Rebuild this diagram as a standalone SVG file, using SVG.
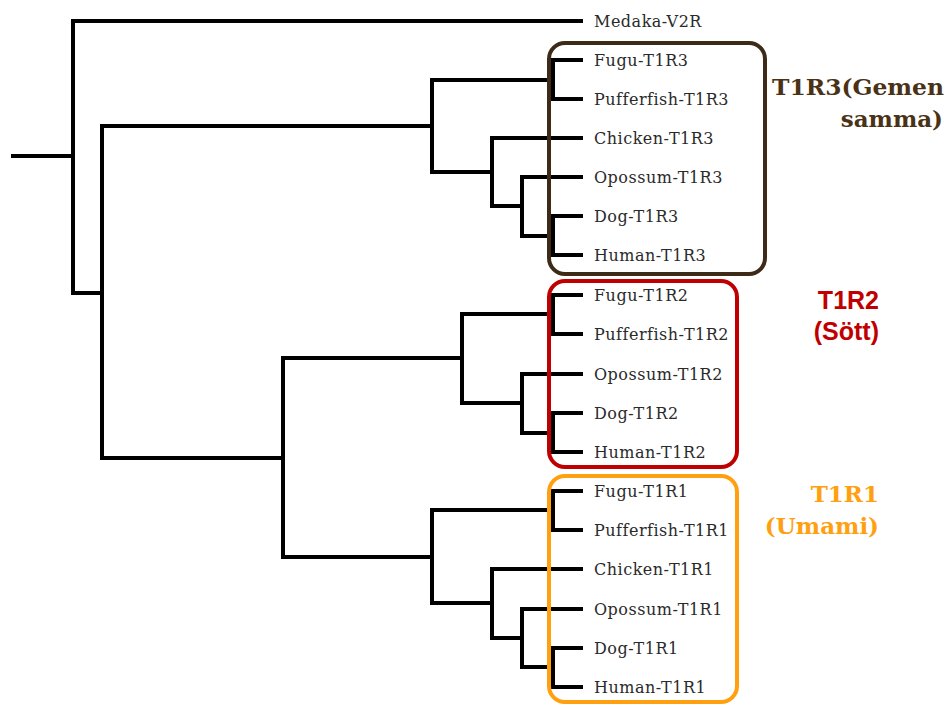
<svg xmlns="http://www.w3.org/2000/svg" width="947" height="705" viewBox="0 0 947 705">
<style>
.br{fill:none;stroke:#000;stroke-width:4;stroke-linecap:square;stroke-linejoin:miter}
.lf{font-family:"DejaVu Serif","Liberation Serif",serif;font-size:16px;letter-spacing:0.5px;fill:#2a2a2a}
.box{fill:none;stroke-width:4}
.cl{font-weight:bold}
.ser{font-family:"DejaVu Serif","Liberation Serif",serif;font-size:23px}
.san{font-family:"Liberation Sans",Arial,sans-serif;font-size:25px}
</style>
<rect width="947" height="705" fill="#fff"/>
<g id="connectors">
<path class="br" d="M13,156H73M73,21V293M73,21H581M73,293H102M102,126V458M102,126H432M102,458H283"/>
<path class="br" d="M432,80V172M432,80H553M553,60V99M553,60H581M553,99H581M432,172H492M492,138V206M492,138H581M492,206H522M522,177V236M522,177H581M522,236H553M553,216V255M553,216H581M553,255H581"/>
<path class="br" d="M283,358V557M283,358H462M462,314V403M462,314H553M553,295V334M553,295H581M553,334H581M462,403H522M522,374V433M522,374H581M522,433H553M553,413V452M553,413H581M553,452H581"/>
<path class="br" d="M283,557H432M432,510V603M432,510H553M553,491V530M553,491H581M553,530H581M432,603H492M492,569V638M492,569H581M492,638H522M522,609V667M522,609H581M522,667H553M553,648V687M553,648H581M553,687H581"/>
</g>
<g id="medaka"><text class="lf" x="594" y="27">Medaka-V2R</text></g>
<g id="t1r3">
<rect class="box" x="549" y="43" width="216" height="231" rx="16" stroke="#3d2a17"/>
<text class="lf" x="594" y="66">Fugu-T1R3</text>
<text class="lf" x="594" y="105">Pufferfish-T1R3</text>
<text class="lf" x="594" y="144">Chicken-T1R3</text>
<text class="lf" x="594" y="183">Opossum-T1R3</text>
<text class="lf" x="594" y="222">Dog-T1R3</text>
<text class="lf" x="594" y="261">Human-T1R3</text>
<text class="cl ser" x="772" y="95" textLength="172" lengthAdjust="spacingAndGlyphs" fill="#4a3217">T1R3(Gemen</text>
<text class="cl ser" x="943" y="127" text-anchor="end" fill="#4a3217">samma)</text>
</g>
<g id="t1r2">
<rect class="box" x="549" y="281" width="188" height="186" rx="16" stroke="#c00000"/>
<text class="lf" x="594" y="301">Fugu-T1R2</text>
<text class="lf" x="594" y="340">Pufferfish-T1R2</text>
<text class="lf" x="594" y="380">Opossum-T1R2</text>
<text class="lf" x="594" y="419">Dog-T1R2</text>
<text class="lf" x="594" y="458">Human-T1R2</text>
<text class="cl san" x="879" y="309" text-anchor="end" fill="#c00000">T1R2</text>
<text class="cl san" x="879" y="340" text-anchor="end" fill="#c00000">(Sött)</text>
</g>
<g id="t1r1">
<rect class="box" x="549" y="476" width="188" height="226" rx="16" stroke="#ffa010"/>
<text class="lf" x="594" y="497">Fugu-T1R1</text>
<text class="lf" x="594" y="536">Pufferfish-T1R1</text>
<text class="lf" x="594" y="575">Chicken-T1R1</text>
<text class="lf" x="594" y="615">Opossum-T1R1</text>
<text class="lf" x="594" y="654">Dog-T1R1</text>
<text class="lf" x="594" y="693">Human-T1R1</text>
<text class="cl ser" x="879" y="502" text-anchor="end" fill="#ffa010">T1R1</text>
<text class="cl ser" x="879" y="534" text-anchor="end" fill="#ffa010">(Umami)</text>
</g>
</svg>
